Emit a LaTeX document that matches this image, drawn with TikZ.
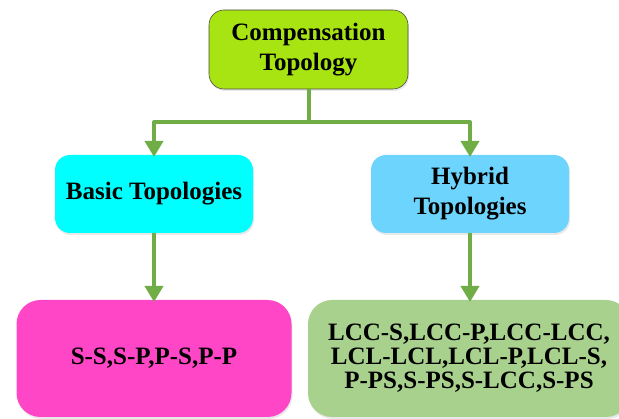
\documentclass[tikz,border=0pt]{standalone}
\usepackage{fontspec}
\setmainfont{Liberation Serif}
\usetikzlibrary{arrows.meta, positioning, shadows}
\definecolor{lime}{HTML}{A8E312}
\definecolor{basicc}{HTML}{00FFFF}
\definecolor{hybridc}{HTML}{6DD4FD}
\definecolor{pinkc}{HTML}{FF46C6}
\definecolor{greenc}{HTML}{A9D18E}
\definecolor{arrowc}{HTML}{70AD47}

\begin{document}
\begin{tikzpicture}[x=1pt, y=-1pt,
  box/.style={rectangle, rounded corners=15pt, inner sep=0pt, outer sep=0pt,
    align=center, font=\fontsize{25}{30}\selectfont\bfseries,
    drop shadow={opacity=0.18, shadow xshift=1pt, shadow yshift=-2pt}},
  bigbox/.style={box, rounded corners=24pt},
  conn/.style={arrowc, line width=4pt},
  arr/.style={conn, -{Triangle[width=18pt, length=16pt]}}]
  \useasboundingbox (0,0) rectangle (619,419);
  % root
  \node[box, fill=lime, draw=gray!60!black, line width=0.6pt,
    minimum width=199pt, minimum height=79pt] (comp) at (308.5,49.5)
    {Compensation\\Topology};
  % second level
  \node[box, fill=basicc, minimum width=198pt, minimum height=78pt]
    (basic) at (154,194) {Basic Topologies};
  \node[box, fill=hybridc, minimum width=198pt, minimum height=78pt]
    (hybrid) at (470,194) {Hybrid\\Topologies};
  % leaves
  \node[bigbox, fill=pinkc, minimum width=275pt, minimum height=117pt]
    (basiclist) at (154,358.5) {S-S,S-P,P-S,P-P};
  \node[bigbox, fill=greenc, minimum width=322pt, minimum height=117pt,
    font=\fontsize{25}{24}\selectfont\bfseries]
    (hybridlist) at (469,358.5)
    {LCC-S,LCC-P,LCC-LCC,\\LCL-LCL,LCL-P,LCL-S,\\P-PS,S-PS,S-LCC,S-PS};
  % connectors
  \coordinate (split) at (308.5,122);
  \draw[conn] (comp.south) -- (split);
  \draw[arr, line join=round] (split) -| ([yshift=-2pt]basic.north);
  \draw[arr, line join=round] (split) -| ([yshift=-2pt]hybrid.north);
  \draw[arr] (basic.south) -- ([yshift=-2pt]basiclist.north);
  \draw[arr] (hybrid.south) -- ([yshift=-2pt]hybrid.south |- hybridlist.north);
\end{tikzpicture}
\end{document}
